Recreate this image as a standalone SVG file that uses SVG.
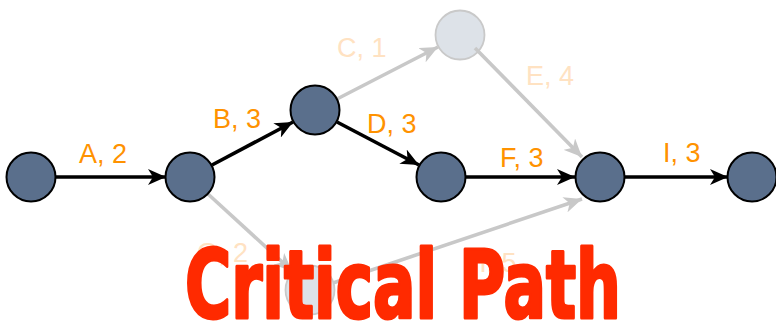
<svg xmlns="http://www.w3.org/2000/svg" width="776" height="325" viewBox="0 0 776 325">
<style>
.node{fill:#5a6f8c;stroke:#000;stroke-width:2}
.ghost{fill:#dde2e8;stroke:#c9c9c9;stroke-width:1.8}
.crit{stroke:#000;stroke-width:3.6;fill:none}
.faint{stroke:#c8c8c8;stroke-width:3.6;fill:none}
.lbl{font-family:"Liberation Sans",Arial,sans-serif;font-size:27px;fill:#ff9200}
.flbl{font-family:"Liberation Sans",Arial,sans-serif;font-size:27px;fill:#ffe2c2}
.title{font-family:"Liberation Sans Narrow","DejaVu Sans Condensed","Liberation Sans",sans-serif;font-weight:bold;font-size:94px;fill:#ff2a00;stroke:#ff2a00;stroke-width:3;stroke-linejoin:round}
</style>
<defs>
<marker id="ab" markerUnits="userSpaceOnUse" viewBox="0 0 18 16" markerWidth="18" markerHeight="16" refX="18" refY="8" orient="auto"><path d="M0,0 L18,8 L0,16 L5,8 z" fill="#000"/></marker>
<marker id="ag" markerUnits="userSpaceOnUse" viewBox="0 0 18 16" markerWidth="18" markerHeight="16" refX="18" refY="8" orient="auto"><path d="M0,0 L18,8 L0,16 L5,8 z" fill="#c8c8c8"/></marker>
</defs>
<g id="connectors">
<line class="faint" x1="337" y1="99" x2="438" y2="47" marker-end="url(#ag)"/>
<line class="faint" x1="208" y1="194" x2="292" y2="271" marker-end="url(#ag)"/>
<line class="faint" x1="333" y1="283" x2="582" y2="199" marker-end="url(#ag)"/>
<line class="crit" x1="56" y1="177" x2="166" y2="177" marker-end="url(#ab)"/>
<line class="crit" x1="212" y1="165" x2="293" y2="122" marker-end="url(#ab)"/>
<line class="crit" x1="337" y1="122" x2="419" y2="165" marker-end="url(#ab)"/>
<line class="crit" x1="466" y1="177" x2="575" y2="177" marker-end="url(#ab)"/>
<line class="crit" x1="625" y1="177" x2="728" y2="177" marker-end="url(#ab)"/>
</g>
<g id="n1"><circle class="node" cx="31" cy="177" r="24.5"/></g>
<g id="n2"><circle class="node" cx="190" cy="177" r="24.5"/></g>
<g id="n3"><circle class="node" cx="315" cy="110" r="24.5"/></g>
<g id="nC"><circle class="ghost" cx="460" cy="35" r="24.5"/></g>
<g id="nG"><circle class="ghost" cx="310" cy="290" r="24.5"/></g>
<g id="n4"><circle class="node" cx="441" cy="177" r="24.5"/></g>
<g id="n5"><circle class="node" cx="600" cy="177" r="24.5"/></g>
<g id="n6"><circle class="node" cx="752" cy="177" r="24.5"/></g>
<line class="faint" x1="475" y1="48" x2="582" y2="157" marker-end="url(#ag)"/>
<g id="labels">
<text class="lbl" x="79" y="163">A, 2</text>
<text class="lbl" x="213" y="128">B, 3</text>
<text class="flbl" x="337" y="57">C, 1</text>
<text class="lbl" x="367" y="133">D, 3</text>
<text class="flbl" x="526" y="85">E, 4</text>
<text class="lbl" x="500" y="167">F, 3</text>
<text class="lbl" x="663" y="162">I, 3</text>
<text class="flbl" x="197" y="262">G, 2</text>
<text class="flbl" x="467" y="272">H, 5</text>
</g>
<text class="title" x="185" y="318" textLength="436" lengthAdjust="spacingAndGlyphs">Critical Path</text>
</svg>
